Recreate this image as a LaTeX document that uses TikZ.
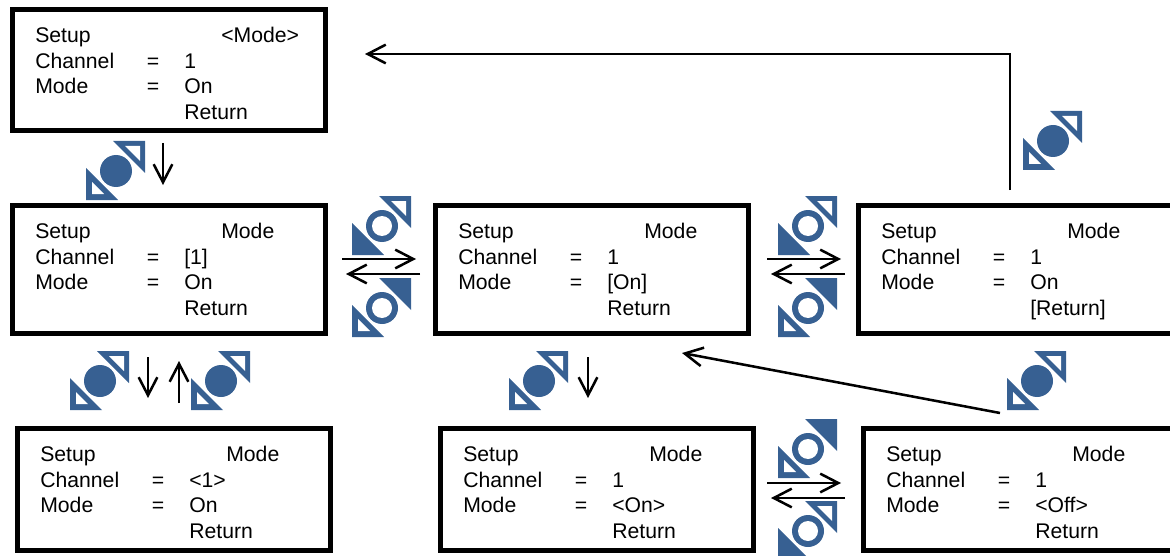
\documentclass[tikz,border=0pt]{standalone}
\usepackage{fontspec}
\setmainfont{Liberation Sans}
\usetikzlibrary{arrows.meta}
\definecolor{keyblue}{HTML}{376092}
\tikzset{
  screen/.style={draw, line width=3.75pt, anchor=north west, inner sep=0pt, outer sep=0pt, minimum width=234.4pt},
  lbl/.style={anchor=base west, inner sep=0pt, font=\fontsize{15.9pt}{18pt}\selectfont},
  flow/.style={line width=1.9pt, -{Straight Barb[length=13.5pt,width=14pt]}},
  pics/keyicon/.style n args={3}{code={
    \fill[keyblue] (0,0) circle (16);
    \fill[#1] (0,0) circle (10);
    \fill[keyblue] (-3,-30) -- (29,-30) -- (29,2) -- cycle;
    \fill[#2] (9,-25) -- (24,-25) -- (24,-10) -- cycle;
    \fill[keyblue] (-30,-3) -- (-30,29) -- (2,29) -- cycle;
    \fill[#3] (-24,11) -- (-24,23) -- (-12,23) -- cycle;
  }}
}
\newcommand{\screenbox}[8][]{
  \begin{scope}[shift={(#3)}]
    \node (#2) at (0,0) [screen, minimum height=#4*0.75pt, #1] {};
    \node (#2-setup) at (22.5,33) [lbl] {Setup};
    \node (#2-title) at (208.5,33) [lbl] {#5};
    \node (#2-chan) at (22.5,59) [lbl] {Channel};
    \node (#2-chaneq) at (134,59) [lbl] {=};
    \node (#2-chanval) at (171.5,59) [lbl] {#6};
    \node (#2-mode) at (22.5,84) [lbl] {Mode};
    \node (#2-modeeq) at (134,84) [lbl] {=};
    \node (#2-modeval) at (171.5,84) [lbl] {#7};
    \node (#2-ret) at (171.5,110) [lbl] {#8};
  \end{scope}
}
\begin{document}
\begin{tikzpicture}[x=0.75pt, y=-0.75pt]
\useasboundingbox (0,0) rectangle (1170,556);
\clip (0,0) rectangle (1170,556);

% screens
\screenbox{top}{12.5,9.5}{121.5}{<Mode>}{1}{On}{Return}
\screenbox{chan}{12.5,205.5}{127.5}{Mode}{[1]}{On}{Return}
\screenbox{mode}{435.5,205.5}{127.5}{Mode}{1}{[On]}{Return}
\screenbox[minimum width=240pt]{ret}{858.5,205.5}{127.5}{Mode}{1}{On}{[Return]}
\screenbox{chanedit}{17.5,428.5}{121.5}{Mode}{<1>}{On}{Return}
\screenbox{on}{440.5,428.5}{121.5}{Mode}{1}{<On>}{Return}
\screenbox[minimum width=240pt]{off}{863.5,428.5}{121.5}{Mode}{1}{<Off>}{Return}

% keys
\pic at (116,171) {keyicon={keyblue}{white}{white}};
\pic at (1053,141) {keyicon={keyblue}{white}{white}};
\pic at (100,381) {keyicon={keyblue}{white}{white}};
\pic at (221,381) {keyicon={keyblue}{white}{white}};
\pic at (539,381) {keyicon={keyblue}{white}{white}};
\pic at (1037,381) {keyicon={keyblue}{white}{white}};
\pic at (382,226) {keyicon={white}{white}{keyblue}};
\pic at (382,308) {keyicon={white}{keyblue}{white}};
\pic at (808,226) {keyicon={white}{white}{keyblue}};
\pic at (808,308) {keyicon={white}{keyblue}{white}};
\pic at (808,449) {keyicon={white}{keyblue}{white}};
\pic at (808,531) {keyicon={white}{white}{keyblue}};

% arrow ends
\coordinate (a1) at (163,143);
\coordinate (a2) at (163,185);
\coordinate (b1) at (342,259);
\coordinate (b2) at (416,259);
\coordinate (b3) at (420,274);
\coordinate (b4) at (346,274);
\coordinate (c1) at (767,259);
\coordinate (c2) at (841,259);
\coordinate (c3) at (845,274);
\coordinate (c4) at (771,274);
\coordinate (d1) at (767,483);
\coordinate (d2) at (841,483);
\coordinate (d3) at (845,498);
\coordinate (d4) at (771,498);
\coordinate (e1) at (148,357);
\coordinate (e2) at (148,398);
\coordinate (f1) at (179,403);
\coordinate (f2) at (179,361);
\coordinate (g1) at (588,357);
\coordinate (g2) at (588,398);
\coordinate (h1) at (1000,413);
\coordinate (h2) at (682,353);
\coordinate (i1) at (1010,190);
\coordinate (i2) at (1010,54);
\coordinate (i3) at (365,54);

\draw[flow] (a1) to (a2);
\draw[flow] (b1) to (b2);
\draw[flow] (b3) to (b4);
\draw[flow] (c1) to (c2);
\draw[flow] (c3) to (c4);
\draw[flow] (d1) to (d2);
\draw[flow] (d3) to (d4);
\draw[flow] (e1) to (e2);
\draw[flow] (f1) to (f2);
\draw[flow] (g1) to (g2);
\draw[flow] (h1) to (h2);
\draw[flow] (i1) -- (i2) -- (i3);
\end{tikzpicture}
\end{document}
